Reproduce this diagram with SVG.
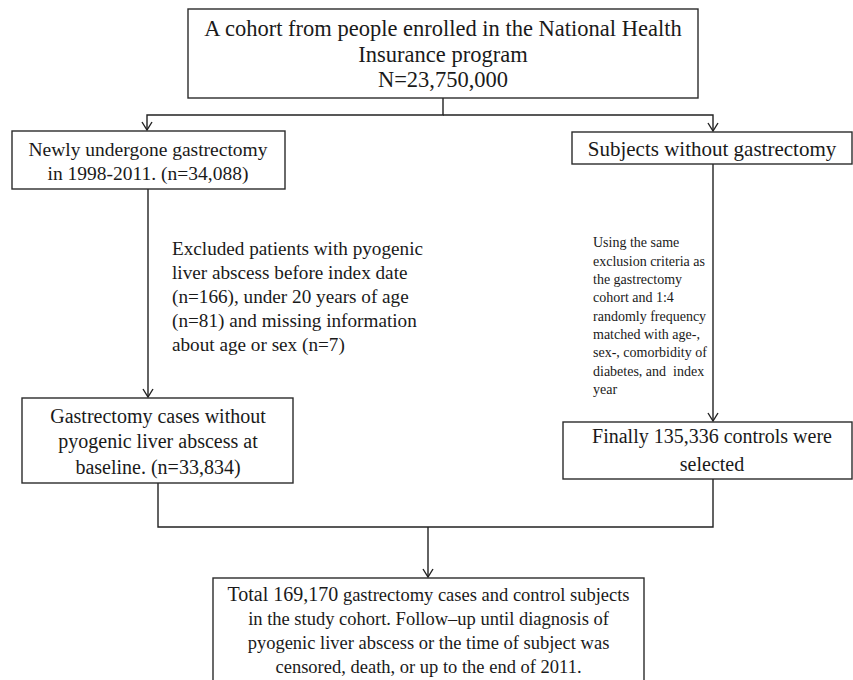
<svg xmlns="http://www.w3.org/2000/svg" width="853" height="680" viewBox="0 0 853 680">
<defs>
<style>
.box{fill:#fff;stroke:#2b2b2b;stroke-width:1.4}
.t{font-family:"Liberation Serif","Times New Roman",serif;fill:#1a1a1a}
.c{text-anchor:middle}
.ln{fill:none;stroke:#222;stroke-width:1.4}
</style>
<marker id="arr" viewBox="0 0 10 12" refX="9" refY="6" markerWidth="10" markerHeight="12" markerUnits="userSpaceOnUse" orient="auto">
<path d="M1,1 L9,6 L1,11" fill="none" stroke="#222" stroke-width="1.4"/>
</marker>
</defs>
<rect width="853" height="680" fill="#fff"/>

<g id="connectors">
<path class="ln" d="M443,98 V115 H147 V130" marker-end="url(#arr)"/>
<path class="ln" d="M443,115 H713 V131" marker-end="url(#arr)"/>
<path class="ln" d="M148,189 V397" marker-end="url(#arr)"/>
<path class="ln" d="M713,164 V421" marker-end="url(#arr)"/>
<path class="ln" d="M158,483 V527 H713 V479"/>
<path class="ln" d="M428,527 V577" marker-end="url(#arr)"/>
</g>

<g id="cohort">
<rect class="box" x="188" y="9" width="510" height="89"/>
<text class="t c" font-size="22.5" x="443" y="36">A cohort from people enrolled in the National Health</text>
<text class="t c" font-size="22.5" x="443" y="61.5">Insurance program</text>
<text class="t c" font-size="22.5" x="443" y="87">N=23,750,000</text>
</g>

<g id="gastrectomy">
<rect class="box" x="12" y="131" width="273" height="58"/>
<text class="t c" font-size="19.5" x="148" y="156">Newly undergone gastrectomy</text>
<text class="t c" font-size="19.5" x="148" y="180">in 1998-2011. (n=34,088)</text>
</g>

<g id="nongastrectomy">
<rect class="box" x="572" y="132" width="280" height="32"/>
<text class="t c" font-size="21" x="712" y="156">Subjects without gastrectomy</text>
</g>

<g id="exclusion-note">
<text class="t" font-size="19.2" x="172" y="255">Excluded patients with pyogenic</text>
<text class="t" font-size="19.2" x="172" y="279">liver abscess before index date</text>
<text class="t" font-size="19.2" x="172" y="303">(n=166), under 20 years of age</text>
<text class="t" font-size="19.2" x="172" y="327">(n=81) and missing information</text>
<text class="t" font-size="19.2" x="172" y="351">about age or sex (n=7)</text>
</g>

<g id="matching-note">
<text class="t" font-size="14" x="593" y="247">Using the same</text>
<text class="t" font-size="14" x="593" y="265.5">exclusion criteria as</text>
<text class="t" font-size="14" x="593" y="284">the gastrectomy</text>
<text class="t" font-size="14" x="593" y="302">cohort and 1:4</text>
<text class="t" font-size="14" x="593" y="320.5">randomly frequency</text>
<text class="t" font-size="14" x="593" y="339">matched with age-,</text>
<text class="t" font-size="14" x="593" y="357">sex-, comorbidity of</text>
<text class="t" font-size="14" x="593" y="375.5" xml:space="preserve">diabetes, and  index</text>
<text class="t" font-size="14" x="593" y="394">year</text>
</g>

<g id="cases">
<rect class="box" x="22" y="398" width="271" height="85"/>
<text class="t c" font-size="20" x="158" y="423">Gastrectomy cases without</text>
<text class="t c" font-size="20" x="158" y="448">pyogenic liver abscess at</text>
<text class="t c" font-size="20" x="158" y="474">baseline. (n=33,834)</text>
</g>

<g id="controls">
<rect class="box" x="563" y="422" width="289" height="57"/>
<text class="t c" font-size="20" x="712" y="443">Finally 135,336 controls were</text>
<text class="t c" font-size="20" x="712" y="471">selected</text>
</g>

<g id="total">
<rect class="box" x="213" y="578" width="431" height="120"/>
<text class="t c" font-size="18.5" x="428.5" y="601"><tspan font-size="20">Total 169,170</tspan> gastrectomy cases and control subjects</text>
<text class="t c" font-size="18.5" x="428.5" y="625">in the study cohort. Follow–up until diagnosis of</text>
<text class="t c" font-size="18.5" x="428.5" y="649">pyogenic liver abscess or the time of subject was</text>
<text class="t c" font-size="18.5" x="428.5" y="673">censored, death, or up to the end of 2011.</text>
</g>
</svg>
